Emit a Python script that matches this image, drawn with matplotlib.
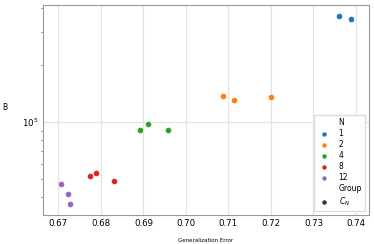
import matplotlib
matplotlib.use("Agg")
import matplotlib.pyplot as plt
from matplotlib.lines import Line2D

# values (generalization error vs B), one list per N
n_values = [1, 2, 4, 8, 12]
colors = ["#1f77b4", "#ff7f0e", "#2ca02c", "#d62728", "#9467bd"]

err_n1 = [0.7359, 0.7388]
b_n1 = [3.62e5, 3.49e5]
err_n2 = [0.7088, 0.7112, 0.7200]
b_n2 = [1.378e5, 1.312e5, 1.356e5]
err_n4 = [0.6893, 0.6910, 0.6958]
b_n4 = [9.07e4, 9.72e4, 9.07e4]
err_n8 = [0.6775, 0.6789, 0.6830]
b_n8 = [5.20e4, 5.39e4, 4.88e4]
err_n12 = [0.6707, 0.6722, 0.6728]
b_n12 = [4.68e4, 4.16e4, 3.68e4]

errs = [err_n1, err_n2, err_n4, err_n8, err_n12]
bs = [b_n1, b_n2, b_n4, b_n8, b_n12]

fig = plt.figure(figsize=(3.74, 2.44), dpi=100)
ax = fig.add_axes([0.114, 0.119, 0.873, 0.861])

ax.set_axisbelow(True)
ax.grid(True, which="major", color="#e3e3e3", linewidth=0.9)

for x, y, c in zip(errs, bs, colors):
    ax.scatter(x, y, s=20, color=c, edgecolor="white", linewidth=0.4, zorder=3)

ax.set_yscale("log")
ax.set_xlim(0.6663, 0.7431)
ax.set_ylim(3.22e4, 4.16e5)
ax.set_xticks([0.67, 0.68, 0.69, 0.70, 0.71, 0.72, 0.73, 0.74])
ax.set_xticklabels(["0.67", "0.68", "0.69", "0.70", "0.71", "0.72", "0.73", "0.74"])

ax.tick_params(axis="both", which="major", length=0, labelsize=6.2, pad=3)
ax.tick_params(axis="y", which="minor", length=1.5, width=0.6, color="#777777")
ax.tick_params(axis="x", which="minor", length=0)

for sp in ax.spines.values():
    sp.set_color("#999999")
    sp.set_linewidth(0.8)

ax.set_xlabel("Generalization Error", fontsize=4, labelpad=7)
ax.set_ylabel("B", fontsize=5.5, rotation=0)
ax.yaxis.set_label_coords(-0.115, 0.49)

# legend with seaborn-like section titles
blank = Line2D([], [], linestyle="none", marker="")
handles = [blank]
labels = ["N"]
for n, c in zip(n_values, colors):
    handles.append(Line2D([], [], linestyle="none", marker="o", markersize=2.2, color=c))
    labels.append(str(n))
handles.append(blank)
labels.append("Group")
handles.append(Line2D([], [], linestyle="none", marker="o", markersize=2.2, color="#333333"))
labels.append("$C_N$")

leg = ax.legend(handles, labels, loc="lower right", fontsize=5.5, frameon=True,
                fancybox=False, edgecolor="#dddddd", framealpha=1.0,
                handlelength=1.9, handletextpad=0.9, labelspacing=0.26,
                borderpad=0.45)

fig.savefig("out.png", dpi=100)
